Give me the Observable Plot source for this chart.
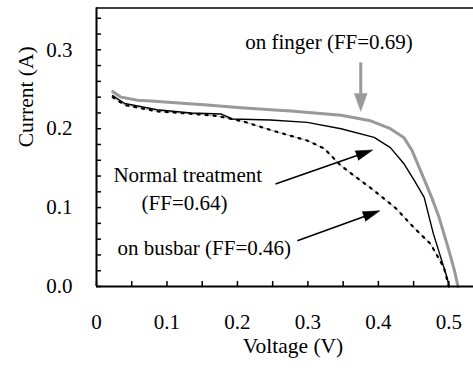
<!DOCTYPE html>
<html>
<head>
<meta charset="utf-8">
<script src="https://cdn.jsdelivr.net/npm/d3@7"></script>
<script src="https://cdn.jsdelivr.net/npm/@observablehq/plot@0.6"></script>
<style>
  html, body { margin: 0; padding: 0; background: #fff; }
  svg, svg text { font-family: "Liberation Serif", "Times New Roman", serif !important; }
</style>
</head>
<body>
<div id="chart"></div>
<script>
// Voltage (V) / Current (A) readings
const fingerV = [0.023, 0.035, 0.058, 0.077, 0.157, 0.205, 0.247, 0.276, 0.347, 0.389, 0.417, 0.436, 0.448, 0.464, 0.476, 0.486, 0.500, 0.508, 0.513];
const fingerI = [0.247, 0.240, 0.236, 0.235, 0.230, 0.2265, 0.224, 0.2225, 0.217, 0.210, 0.200, 0.189, 0.172, 0.138, 0.112, 0.088, 0.046, 0.020, 0.000];

const normalV = [0.023, 0.040, 0.086, 0.134, 0.177, 0.193, 0.247, 0.299, 0.347, 0.394, 0.417, 0.436, 0.452, 0.465, 0.478, 0.493, 0.498, 0.500];
const normalI = [0.242, 0.232, 0.224, 0.220, 0.2186, 0.2123, 0.211, 0.208, 0.200, 0.189, 0.176, 0.156, 0.133, 0.113, 0.067, 0.024, 0.010, 0.000];

const busbarV = [0.023, 0.040, 0.086, 0.134, 0.172, 0.209, 0.252, 0.299, 0.323, 0.347, 0.394, 0.425, 0.450, 0.474, 0.493, 0.500];
const busbarI = [0.240, 0.230, 0.222, 0.219, 0.216, 0.209, 0.197, 0.185, 0.175, 0.153, 0.1215, 0.099, 0.075, 0.054, 0.024, 0.000];

// ticks
const xTickLabels = [0, 0.1, 0.2, 0.3, 0.4, 0.5];
const xMinorTicks = [0, 0.05, 0.1, 0.15, 0.2, 0.25, 0.3, 0.35, 0.4, 0.45, 0.5];
const yTickLabels = [0, 0.1, 0.2, 0.3];
const yMinorTicks = [0, 0.02, 0.04, 0.06, 0.08, 0.1, 0.12, 0.14, 0.16, 0.18, 0.2, 0.22, 0.24, 0.26, 0.28, 0.3, 0.32, 0.34];
const xMax = 0.535, yMax = 0.353;

// annotations (data coordinates)
const labels = [
  {text: "on finger (FF=0.69)", V: 0.330, I: 0.309},
  {text: "Normal treatment", V: 0.1295, I: 0.1405},
  {text: "(FF=0.64)", V: 0.125, I: 0.105},
  {text: "on busbar (FF=0.46)", V: 0.153, I: 0.049}
];
const blackArrows = [
  {V1: 0.254, I1: 0.130, V2: 0.392, I2: 0.173},
  {V1: 0.285, I1: 0.058, V2: 0.402, I2: 0.096}
];
const grayArrows = [
  {V1: 0.375, I1: 0.284, V2: 0.375, I2: 0.222}
];

const zip = (V, I) => V.map((v, i) => ({V: v, I: I[i]}));
const finger = zip(fingerV, fingerI);
const normal = zip(normalV, normalI);
const busbar = zip(busbarV, busbarI);

const FONT = "Liberation Serif";
const W = 473, H = 369, mL = 96, mR = 0, mT = 7.5, mB = 83;
const kx = (W - mL - mR) / xMax;   // px per volt
const ky = (H - mT - mB) / yMax;   // px per amp

function arrowParts(list, headLen) {
  return list.map(a => {
    const dx = (a.V2 - a.V1) * kx, dy = (a.I2 - a.I1) * ky;
    const len = Math.hypot(dx, dy);
    const f = (len - headLen + 2) / len;
    return {
      ...a,
      Vb: a.V1 + (a.V2 - a.V1) * f,
      Ib: a.I1 + (a.I2 - a.I1) * f,
      rot: Math.atan2(dx, dy) * 180 / Math.PI
    };
  });
}
const bArrows = arrowParts(blackArrows, 17);
const gArrows = arrowParts(grayArrows, 18);

const chart = Plot.plot({
  width: W,
  height: H,
  marginLeft: mL,
  marginRight: mR,
  marginTop: mT,
  marginBottom: mB,
  style: {fontFamily: FONT, fontSize: "21px", background: "white", color: "black"},
  x: {domain: [0, xMax]},
  y: {domain: [0, yMax]},
  marks: [
    Plot.line(busbar, {x: "V", y: "I", stroke: "#888", strokeWidth: 0.6}),
    Plot.line(busbar, {x: "V", y: "I", stroke: "black", strokeWidth: 2.2, strokeDasharray: "2,6"}),
    Plot.line(normal, {x: "V", y: "I", stroke: "black", strokeWidth: 1.4}),
    Plot.line(finger, {x: "V", y: "I", stroke: "#999", strokeWidth: 3}),
    Plot.text(labels, {x: "V", y: "I", text: "text", fontSize: 21, fontFamily: FONT}),
    Plot.link(bArrows, {x1: "V1", y1: "I1", x2: "Vb", y2: "Ib", stroke: "black", strokeWidth: 1.6}),
    Plot.vector(bArrows, {x: "V2", y: "I2", rotate: "rot", length: 17, r: 5, anchor: "end", shape: "spike", fill: "black", stroke: "black", strokeWidth: 0.5}),
    Plot.link(gArrows, {x1: "V1", y1: "I1", x2: "Vb", y2: "Ib", stroke: "#999", strokeWidth: 3}),
    Plot.vector(gArrows, {x: "V2", y: "I2", rotate: "rot", length: 18, r: 6.5, anchor: "end", shape: "spike", fill: "#999", stroke: "#999", strokeWidth: 0.5}),
    Plot.ruleY([yMax], {stroke: "black", strokeWidth: 1.5}),
    Plot.ruleX([0], {stroke: "black", strokeWidth: 2}),
    Plot.ruleY([0], {stroke: "black", strokeWidth: 2}),
    // inward ticks
    Plot.ruleX(xMinorTicks, {x: d => d, y1: 0, y2: 5 / ky, stroke: "black", strokeWidth: 1.5}),
    Plot.ruleY(yMinorTicks, {y: d => d, x1: 0, x2: 5 / kx, stroke: "black", strokeWidth: 1.5}),
    Plot.axisX(xTickLabels, {tickSize: 0, tickPadding: 28, tickFormat: d => d === 0 ? "0" : d.toFixed(1), label: null, fontSize: 21, fontFamily: FONT}),
    Plot.axisY(yTickLabels, {tickSize: 0, tickPadding: 24, tickFormat: d => d.toFixed(1), label: null, fontSize: 21, fontFamily: FONT}),
    Plot.text(["Voltage (V)"], {frameAnchor: "bottom", dy: 66, dx: 8, fontSize: 21.5, fontFamily: FONT}),
    Plot.text(["Current (A)"], {frameAnchor: "left", dx: -70, rotate: -90, fontSize: 21.5, fontFamily: FONT})
  ]
});
document.getElementById("chart").appendChild(chart);
</script>
</body>
</html>
